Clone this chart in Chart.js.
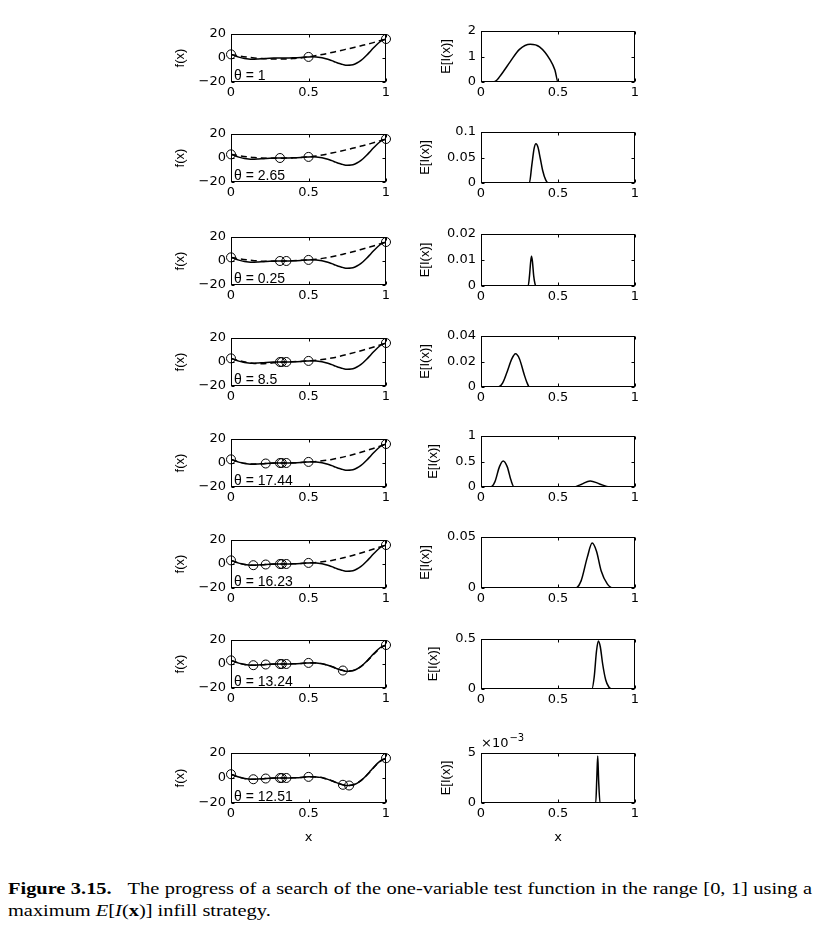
<!DOCTYPE html>
<html><head><meta charset="utf-8">
<script src="https://cdn.jsdelivr.net/npm/chart.js@4.4.1/dist/chart.umd.min.js"></script>
<style>
html,body{margin:0;padding:0;background:#fff;width:820px;height:925px;overflow:hidden;position:relative}
.c{position:absolute}
#cap{position:absolute;left:8px;top:878px;width:670px;transform:scaleX(1.2);transform-origin:0 0;font-family:"Liberation Serif","Times New Roman",serif;font-size:17px;line-height:22px;color:#000;white-space:nowrap}
#cap .l1{text-align:justify;text-align-last:justify}
</style></head><body>
<div id="cap"><div class="l1"><b>Figure 3.15.</b>&nbsp;&nbsp; The progress of a search of the one-variable test function in the range [0, 1] using a</div><div>maximum <i>E</i>[<i>I</i>(<b>x</b>)] infill strategy.</div></div>
<script>
// ---------------- DATA ----------------
// true function (solid line)
const xTrue = [0,0.025,0.05,0.075,0.1,0.125,0.15,0.175,0.2,0.225,0.25,0.275,0.3,0.325,0.35,0.375,0.4,0.425,0.45,0.475,0.5,0.525,0.55,0.575,0.6,0.625,0.65,0.675,0.7,0.725,0.75,0.775,0.8,0.825,0.85,0.875,0.9,0.925,0.95,0.975,1];
const fTrue = [3.03,1.81,0.74,-0.10,-0.66,-0.94,-0.98,-0.85,-0.64,-0.41,-0.21,-0.08,-0.02,0.00,0.00,0.03,0.12,0.27,0.48,0.72,0.91,0.99,0.87,0.50,-0.15,-1.07,-2.21,-3.44,-4.61,-5.52,-5.99,-5.85,-4.95,-3.25,-0.80,2.27,5.71,9.19,12.30,14.65,15.83];
// kriging predictions (dashed line)
const xPred = [0,0.05,0.1,0.15,0.2,0.25,0.3,0.35,0.4,0.45,0.5,0.55,0.6,0.65,0.7,0.75,0.8,0.85,0.9,0.95,1];
const pred1 = [3.03,1.8,0.8,0.0,-0.5,-0.8,-0.9,-0.8,-0.5,0.1,0.91,2.0,3.2,4.6,6.0,7.5,9.0,10.6,12.2,14.0,15.83];
const pred2 = [3.03,2.0,1.1,0.4,0.0,-0.2,-0.2,-0.1,0.1,0.4,0.91,1.7,2.8,4.1,5.5,7.0,8.6,10.2,12.0,13.9,15.83];
const pred3 = [3.03,1.9,1.0,0.3,-0.2,-0.3,-0.2,0.0,0.3,0.6,0.91,1.5,2.4,3.6,5.0,6.6,8.2,10.0,11.8,13.8,15.83];
const pred4 = [3.03,1.2,-0.3,-1.2,-1.4,-1.0,-0.3,0.0,0.2,0.5,0.91,1.4,2.2,3.3,4.7,6.3,8.0,9.8,11.7,13.7,15.83];
const pred5 = [3.03,0.9,-0.5,-0.9,-0.6,-0.2,0.0,0.0,0.1,0.45,0.91,1.3,2.0,3.0,4.3,5.8,7.5,9.4,11.4,13.6,15.83];
const pred6 = [3.03,0.74,-0.66,-0.98,-0.64,-0.21,-0.02,0.0,0.12,0.48,0.91,1.3,2.0,3.0,4.4,6.0,7.7,9.6,11.6,13.7,15.83];
const pred7 = [3.03,0.74,-0.66,-0.98,-0.64,-0.21,-0.02,0.0,0.12,0.48,0.91,0.85,-0.1,-2.1,-4.5,-5.9,-4.9,-0.9,5.3,11.9,15.83];
const pred8 = [3.03,0.74,-0.66,-0.98,-0.64,-0.21,-0.02,0.0,0.12,0.48,0.91,0.87,-0.15,-2.2,-4.6,-6.0,-4.95,-0.85,5.4,12.0,15.83];
// sample points (circles)
const sampleX1 = [0,0.5,1],                                        sampleY1 = [3.03,0.91,15.83];
const sampleX2 = [0,0.316,0.5,1],                                  sampleY2 = [3.03,0.0,0.91,15.83];
const sampleX3 = [0,0.316,0.357,0.5,1],                            sampleY3 = [3.03,0.0,0.01,0.91,15.83];
const sampleX4 = [0,0.316,0.328,0.357,0.5,1],                      sampleY4 = [3.03,0.0,0.0,0.01,0.91,15.83];
const sampleX5 = [0,0.224,0.316,0.328,0.357,0.5,1],                sampleY5 = [3.03,-0.42,0.0,0.0,0.01,0.91,15.83];
const sampleX6 = [0,0.144,0.224,0.316,0.328,0.357,0.5,1],          sampleY6 = [3.03,-0.99,-0.42,0.0,0.0,0.01,0.91,15.83];
const sampleX7 = [0,0.144,0.224,0.316,0.328,0.357,0.5,0.722,1],    sampleY7 = [3.03,-0.99,-0.42,0.0,0.0,0.01,0.91,-5.43,15.83];
const sampleX8 = [0,0.144,0.224,0.316,0.328,0.357,0.5,0.722,0.762,1], sampleY8 = [3.03,-0.99,-0.42,0.0,0.0,0.01,0.91,-5.43,-6.0,15.83];
// expected improvement curves
const eiX1 = [0,0.075,0.1,0.12,0.15,0.19,0.25,0.32,0.38,0.45,0.48,0.5,1];
const eiY1 = [0,0,0.06,0.2,0.45,0.8,1.28,1.48,1.38,0.86,0.47,0,0];
const eiX2 = [0,0.314,0.33,0.345,0.357,0.37,0.385,0.4,0.42,0.437,1];
const eiY2 = [0,0,0.035,0.068,0.077,0.07,0.048,0.025,0.006,0,0];
const eiX3 = [0,0.306,0.315,0.322,0.328,0.334,0.342,0.35,0.356,1];
const eiY3 = [0,0,0.004,0.009,0.0114,0.0095,0.004,0.001,0,0];
const eiX4 = [0,0.112,0.14,0.17,0.2,0.224,0.25,0.28,0.3,0.315,1];
const eiY4 = [0,0,0.003,0.012,0.022,0.026,0.022,0.01,0.003,0,0];
const eiX5 = [0,0.063,0.09,0.12,0.144,0.17,0.195,0.215,0.6,0.65,0.709,0.77,0.834,1];
const eiY5 = [0,0,0.1,0.4,0.51,0.4,0.13,0,0,0.05,0.12,0.06,0,0];
const eiX6 = [0,0.614,0.65,0.69,0.722,0.75,0.78,0.82,0.856,1];
const eiY6 = [0,0,0.007,0.03,0.044,0.036,0.017,0.004,0,0];
const eiX7 = [0,0.72,0.735,0.75,0.762,0.775,0.79,0.81,0.83,0.85,1];
const eiY7 = [0,0,0.12,0.38,0.48,0.42,0.25,0.09,0.02,0,0];
const eiX8 = [0,0.745,0.752,0.758,0.764,0.773,1];
const eiY8 = [0,0,0.0025,0.0047,0.0022,0,0];
// labels and axis limits
const thetaLabels = ['\u03b8 = 1','\u03b8 = 2.65','\u03b8 = 0.25','\u03b8 = 8.5','\u03b8 = 17.44','\u03b8 = 16.23','\u03b8 = 13.24','\u03b8 = 12.51'];
const eiMax  = [2,0.1,0.02,0.04,1,0.05,0.5,0.005];
const eiStep = [1,0.05,0.01,0.02,0.5,0.05,0.5,0.005];
const fTicks = [-20,0,20];
const xTicks = [0,0.5,1];

const preds = [pred1,pred2,pred3,pred4,pred5,pred6,pred7,pred8];
const sXs = [sampleX1,sampleX2,sampleX3,sampleX4,sampleX5,sampleX6,sampleX7,sampleX8];
const sYs = [sampleY1,sampleY2,sampleY3,sampleY4,sampleY5,sampleY6,sampleY7,sampleY8];
const eXs = [eiX1,eiX2,eiX3,eiX4,eiX5,eiX6,eiX7,eiX8];
const eYs = [eiY1,eiY2,eiY3,eiY4,eiY5,eiY6,eiY7,eiY8];

// ---------------- LAYOUT ----------------
const LX0=231, LX1=386, RX0=481, RX1=635;
const leftTop=[34,134,237,338,439,540,640,753], leftBot=[82,182,285,386,487,588,688,803];
const rightTop=[31,132,234,336,436,537,639,753], rightBot=[82,183,286,387,487,588,689,803];
const HFONT = '"DejaVu Sans", Verdana, sans-serif';
const LFONT = '"Liberation Sans", Arial, sans-serif';
const TICK_FONT={family:HFONT, size:13};
const TITLE_FONT={family:LFONT, size:13};

const fmt = v => String(+(+v).toFixed(6)).replace('-', '\u2212');
const pts = (xs, ys) => xs.map((x, k) => ({x, y: ys[k]}));

const framePlugin = {
  id: 'frame',
  afterDatasetsDraw(chart, args, o) {
    const {ctx, chartArea: a, scales} = chart;
    ctx.save();
    ctx.strokeStyle = '#000'; ctx.lineWidth = 1;
    const l = Math.round(a.left)+0.5, t = Math.round(a.top)+0.5, r = Math.round(a.right)-0.5, b = Math.round(a.bottom)-0.5;
    ctx.strokeRect(l, t, r-l, b-t);
    ctx.beginPath();
    scales.x.ticks.forEach(tk => { const p = Math.round(scales.x.getPixelForValue(tk.value))+0.5;
      ctx.moveTo(p,t); ctx.lineTo(p,t+3); ctx.moveTo(p,b); ctx.lineTo(p,b-3); });
    scales.y.ticks.forEach(tk => { const p = Math.round(scales.y.getPixelForValue(tk.value))+0.5;
      ctx.moveTo(l,p); ctx.lineTo(l+3,p); ctx.moveTo(r,p); ctx.lineTo(r-3,p); });
    ctx.stroke();
    ctx.fillStyle = '#000';
    if (o.label) {
      ctx.font = '14px ' + LFONT;
      ctx.textBaseline = 'alphabetic'; ctx.textAlign = 'left';
      ctx.fillText(o.label, a.left + 3, a.bottom - 2);
    }
    if (o.exponent) {
      ctx.font = '13px ' + HFONT;
      ctx.textBaseline = 'alphabetic'; ctx.textAlign = 'left';
      const bx = a.left, by = a.top - 6;
      ctx.fillText('\u00d710', bx, by);
      const w = ctx.measureText('\u00d710').width;
      ctx.font = '10px ' + HFONT;
      ctx.fillText('\u22123', bx + w + 1, by - 6);
    }
    ctx.restore();
  }
};

function build(i, isL) {
  const top = isL ? leftTop[i] : rightTop[i], bot = isL ? leftBot[i] : rightBot[i];
  const last = i === 7;
  const padTop = (!isL && last) ? 26 : 14;
  const xH = last ? 46 : 22;
  const cl = isL ? 130 : 395;
  const x0 = isL ? LX0 : RX0, x1 = isL ? LX1 : RX1;
  const padRight = 14;
  const W = x1 + padRight - cl, H = padTop + (bot - top) + xH;
  const div = document.createElement('div'); div.className = 'c';
  Object.assign(div.style, {left: cl+'px', top: (top-padTop)+'px', width: W+'px', height: H+'px'});
  const cv = document.createElement('canvas'); cv.width = W; cv.height = H;
  cv.style.width = W+'px'; cv.style.height = H+'px';
  div.appendChild(cv); document.body.appendChild(div);

  let datasets;
  if (isL) {
    datasets = [
      {type:'line', data: pts(xTrue, fTrue), borderColor:'#000', borderWidth:1.5, pointRadius:0, tension:0.4, cubicInterpolationMode:'monotone', fill:false},
      {type:'line', data: pts(xPred, preds[i]), borderColor:'#000', borderWidth:1.5, borderDash:[6,4], pointRadius:0, tension:0.4, cubicInterpolationMode:'monotone', fill:false},
      {type:'scatter', data: pts(sXs[i], sYs[i]), borderColor:'#000', backgroundColor:'rgba(0,0,0,0)', borderWidth:1, pointRadius:4.5, showLine:false, clip:false}
    ];
  } else {
    datasets = [
      {type:'line', data: pts(eXs[i], eYs[i]), borderColor:'#000', borderWidth:1.5, pointRadius:0, tension:0.4, cubicInterpolationMode:'monotone', fill:false}
    ];
  }
  const yMin = isL ? fTicks[0] : 0, yMax = isL ? fTicks[2] : eiMax[i], yStep = isL ? fTicks[2]-fTicks[1] : eiStep[i];
  const cfg = {
    data: {datasets},
    plugins: [framePlugin],
    options: {
      responsive:false, animation:false, devicePixelRatio:1,
      layout:{padding:{top:padTop, right:padRight, bottom:0, left:0}},
      plugins:{legend:{display:false}, tooltip:{enabled:false},
        frame:{label: isL ? thetaLabels[i] : null, exponent: (!isL && last)}},
      scales:{
        x:{type:'linear', min:xTicks[0], max:xTicks[2], grid:{display:false, drawTicks:false}, border:{display:false},
           ticks:{stepSize:xTicks[1]-xTicks[0], padding:3, color:'#000', font:TICK_FONT, maxRotation:0, callback:v=>fmt(v)},
           title:{display:last, text:'x', color:'#000', font:TICK_FONT, padding:{top:4,bottom:4}},
           afterFit:s=>{s.height = xH;}},
        y:{type:'linear', min:yMin, max:yMax, grid:{display:false, drawTicks:false}, border:{display:false},
           ticks:{stepSize:yStep, padding:5, color:'#000', font:TICK_FONT,
                  callback: (!isL && last) ? (v=>fmt(v*1000)) : (v=>fmt(v))},
           title:{display:true, text: isL ? 'f(x)' : 'E[I(x)]', color:'#000', font:TITLE_FONT, padding:{top:0,bottom: isL ? 5 : 9}}}
      }
    }
  };
  const chart = new Chart(cv, cfg);
  const need = (x0 - cl) - chart.chartArea.left;
  chart.options.layout.padding.left = need;
  chart.update('none');
}
for (let i = 0; i < 8; i++) { build(i, true); build(i, false); }
</script>
</body></html>
